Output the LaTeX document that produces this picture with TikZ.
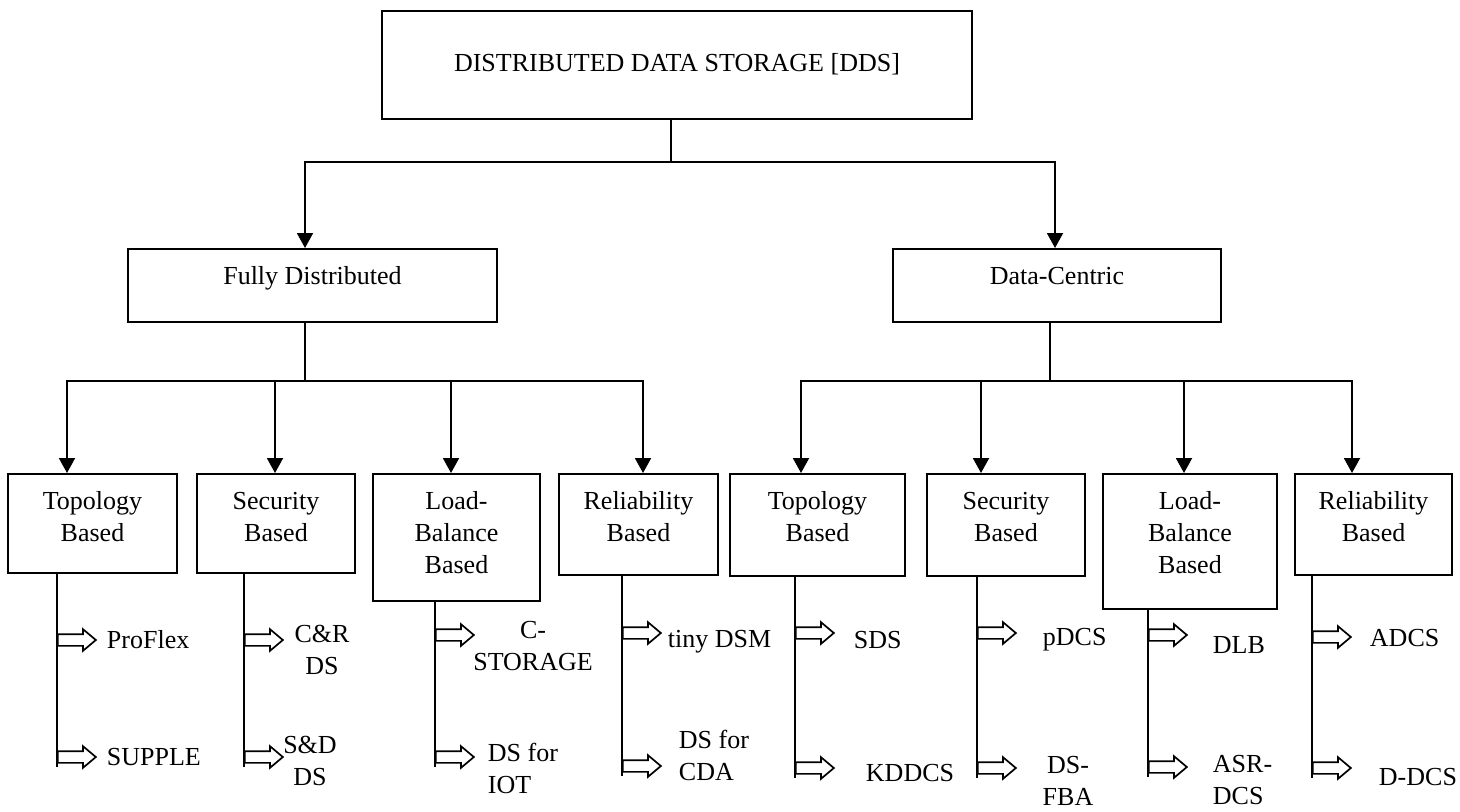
\documentclass[tikz,border=0pt]{standalone}
\usepackage{fontspec}
\setmainfont{Liberation Serif}
\usetikzlibrary{arrows.meta,shapes.arrows}
\begin{document}
\begin{tikzpicture}[x=0.5pt,y=-0.5pt,
    font=\fontsize{13}{16}\selectfont, line width=0.95pt,
    catbox/.style={draw,align=flush center,anchor=north,inner sep=0pt,
	text height=17.8pt},
    tree/.style={-{Triangle[length=7.5pt,width=8pt]}},
    leafarrow/.style={single arrow,draw,fill=white,anchor=west,
	minimum height=19pt,single arrow head extend=2.5pt,
	single arrow tip angle=80,inner sep=2.5pt,line width=0.85pt},
    leaf/.style={inner sep=0pt,align=center}]
\useasboundingbox (0,0) rectangle (1460,811);
% root and the two families
\node[catbox,text width=295pt,text height=30.3pt,text depth=23.7pt] (dds) at (677,10)
    {DISTRIBUTED DATA STORAGE [DDS]};
\node[catbox,text width=184.5pt,text depth=18.7pt] (fd) at (312.5,248)
    {Fully Distributed};
\node[catbox,text width=164pt,text depth=18.7pt] (dc) at (1057,248)
    {Data-Centric};
% the eight categories
\node[catbox,text width=84.5pt,text depth=31.7pt] (fdtop) at (92.5,473) {Topology\\Based};
\node[catbox,text width=79pt,text depth=31.7pt] (fdsec) at (276,473) {Security\\Based};
\node[catbox,text width=83.5pt,text depth=45.7pt] (fdload) at (456.5,473) {Load-\\Balance\\Based};
\node[catbox,text width=79.5pt,text depth=32.7pt] (fdrel) at (638.5,473) {Reliability\\Based};
\node[catbox,text width=87.5pt,text depth=33.2pt] (dctop) at (817.5,473) {Topology\\Based};
\node[catbox,text width=79pt,text depth=33.2pt] (dcsec) at (1006,473) {Security\\Based};
\node[catbox,text width=87pt,text depth=49.7pt] (dcload) at (1190,473) {Load-\\Balance\\Based};
\node[catbox,text width=78.5pt,text depth=32.7pt] (dcrel) at (1373.5,473) {Reliability\\Based};
% tree connectors
\coordinate (ddsbus) at (671,162);
\coordinate (fdbus) at (305,381);
\coordinate (dcbus) at (1050,381);
\draw ([xshift=-3pt]dds.south) -- (ddsbus);
\draw[tree] (ddsbus) -| ([xshift=-3.75pt]fd.north);
\draw[tree] (ddsbus) -| ([xshift=-1pt]dc.north);
\draw ([xshift=-3.75pt]fd.south) -- (fdbus);
\draw ([xshift=-3.5pt]dc.south) -- (dcbus);
\foreach \b/\d in {fdtop/-12.75pt,fdsec/-0.5pt,fdload/-2.75pt,fdrel/2.25pt}
    \draw[tree] (fdbus) -| ([xshift=\d]\b.north);
\foreach \b/\d in {dctop/-8.25pt,dcsec/-12.5pt,dcload/-3pt,dcrel/-10.75pt}
    \draw[tree] (dcbus) -| ([xshift=\d]\b.north);
% hollow arrows and stems
\foreach \b/\x/\ya/\yb in {fdtop/57/640/757,fdsec/244/640/757,
    fdload/435/635/757,fdrel/622/633/766,dctop/795/633/768,
    dcsec/977/633/768,dcload/1148/635/767,dcrel/1312/637/768}{
  \node[leafarrow] (\b-a) at (\x,\ya) {};
  \node[leafarrow] (\b-b) at (\x,\yb) {};
  \draw (\b.south -| \b-a.west) -- ([yshift=-5pt]\b-b.west);
}
% leaves
\node[leaf,anchor=west] (proflex) at (106,640) {ProFlex};
\node[leaf,anchor=west] (supple) at (106,757) {SUPPLE};
\node[leaf] (crds) at (322,650) {C\&R\\DS};
\node[leaf] (sdds) at (310,761) {S\&D\\DS};
\node[leaf] (cstor) at (533,646) {C-\\STORAGE};
\node[leaf,anchor=west,align=left] (dsiot) at (487,768) {DS for\\IOT};
\node[leaf,anchor=west] (tinydsm) at (667,642) {tiny DSM};
\node[leaf,anchor=west,align=left] (dscda) at (678,755) {DS for\\CDA};
\node[leaf,anchor=west] (sds) at (853,640) {SDS};
\node[leaf,anchor=west] (kddcs) at (865,773) {KDDCS};
\node[leaf,anchor=west] (pdcs) at (1042,640) {pDCS};
\node[leaf] (dsfba) at (1068,781) {DS-\\FBA};
\node[leaf,anchor=west] (dlb) at (1212,645) {DLB};
\node[leaf,anchor=west,align=left] (asrdcs) at (1212,780) {ASR-\\DCS};
\node[leaf,anchor=west] (adcs) at (1369,638) {ADCS};
\node[leaf,anchor=west] (ddcs) at (1378,777) {D-DCS};
\end{tikzpicture}
\end{document}
